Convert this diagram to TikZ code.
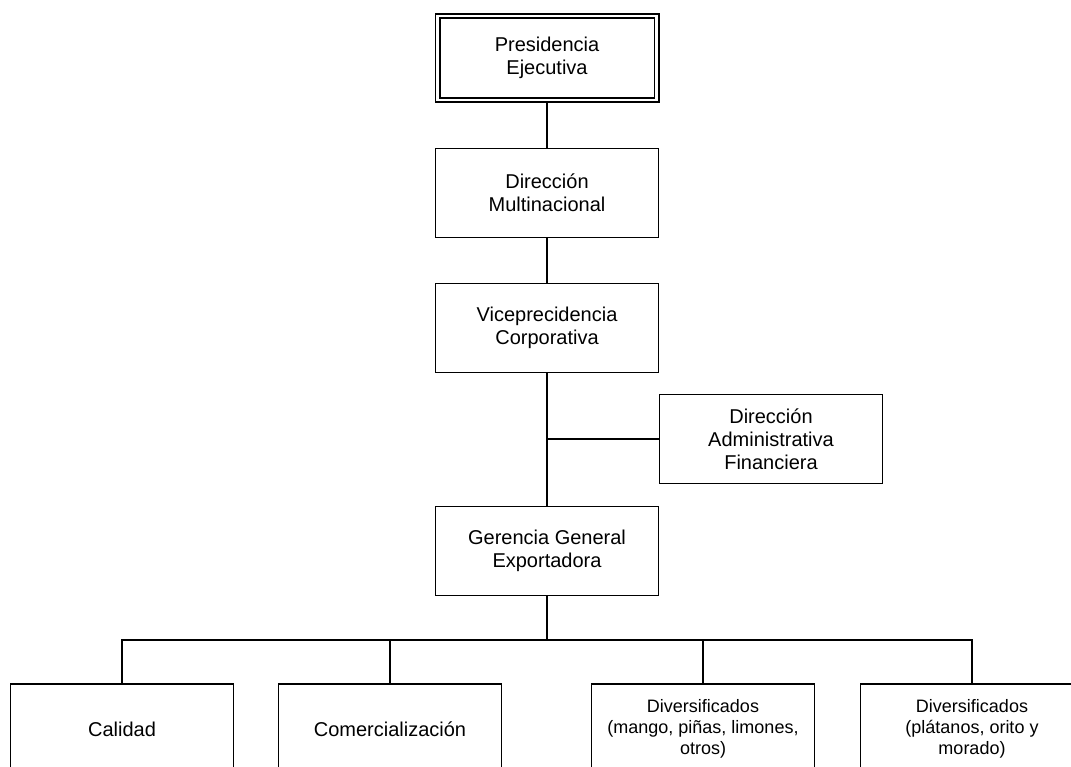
\documentclass[tikz,border=0pt]{standalone}
\usepackage{fontspec}
\setmainfont{Liberation Sans}
\usetikzlibrary{backgrounds}

\tikzset{
  unit/.style={draw=black, fill=white, line width=1.8pt, rectangle, inner sep=0pt,
    align=center, font=\fontsize{20}{23}\selectfont},
  midbox/.style={unit, minimum width=223pt, minimum height=89pt},
  leafbox/.style={unit, minimum width=223pt, minimum height=90pt},
  smalltext/.style={font=\fontsize{18}{20.7}\selectfont},
  headbox/.style={unit, line width=1.6pt, double, double distance=2.8pt, minimum width=219pt, minimum height=84pt},
  link/.style={draw=black, line width=1.8pt}
}

\begin{document}
\begin{tikzpicture}[x=1pt, y=-1pt]
  \clip (0,0) rectangle (1071,767);

  % main chain
  \node[headbox] (pres) at (547,58) {Presidencia\\Ejecutiva};
  \node[midbox]  (dir)  at (547,193)  {Dirección\\Multinacional};
  \node[midbox]  (vice) at (547,328)  {Viceprecidencia\\Corporativa};
  \node[midbox]  (daf)  at (771,439) {Dirección\\Administrativa\\Financiera};
  \node[midbox]  (ger)  at (547,551)  {Gerencia General\\Exportadora};

  % operating units
  \node[leafbox] (cal)  at (122,729)   {Calidad};
  \node[leafbox] (com)  at (390,729)   {Comercialización};
  \node[leafbox, smalltext] (div1) at (703,729) {Diversificados\\(mango, piñas, limones,\\otros)};
  \node[leafbox, smalltext] (div2) at (972,729)   {Diversificados\\(plátanos, orito y\\morado)};

  \coordinate (bus) at (547,640);

  \begin{scope}[on background layer]
    \draw[link] (pres) -- (dir);
    \draw[link] (dir) -- (vice);
    \draw[link] (vice) -- (ger);
    \draw[link] (daf.west) -- (vice.south |- daf.west);
    \draw[link] (ger.south) -- (bus);
    \draw[link] (cal.north) |- (bus) -| (div2.north);
    \draw[link] (com.north) -- (com.north |- bus);
    \draw[link] (div1.north) -- (div1.north |- bus);
  \end{scope}
\end{tikzpicture}
\end{document}
